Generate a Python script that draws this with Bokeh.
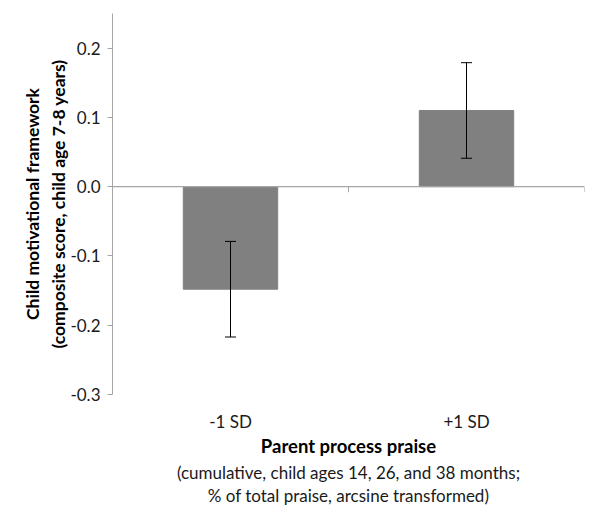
from bokeh.plotting import figure
from bokeh.models import (Range1d, FixedTicker, Span, Whisker, ColumnDataSource,
                          Title, NumeralTickFormatter, TeeHead)
from bokeh.embed import file_html
from bokeh.resources import INLINE

# ---- data ----
categories = ["-1 SD", "+1 SD"]
means = [-0.148, 0.110]
errors = [0.069, 0.069]
y_ticks = [-0.3, -0.2, -0.1, 0.0, 0.1, 0.2]
y_label = "Child motivational framework\n(composite score, child age 7-8 years)"
x_label = "Parent process praise"
x_sub1 = "(cumulative, child ages 14, 26, and 38 months;"
x_sub2 = "% of total praise, arcsine transformed)"

FONT = "Lato"
xs = [i + 0.5 for i in range(len(categories))]
bounds = list(range(len(categories) + 1))

src = ColumnDataSource(dict(
    x=xs, top=means,
    upper=[m + e for m, e in zip(means, errors)],
    lower=[m - e for m, e in zip(means, errors)],
))

W, H = 600, 515
p = figure(width=W, height=H, output_backend="svg", toolbar_location=None,
           x_range=Range1d(0, len(categories)), y_range=Range1d(-0.3, 0.25),
           min_border_left=112, min_border_right=W - 584, min_border_top=13,
           min_border_bottom=H - 394)
p.outline_line_color = None
p.grid.visible = False
p.background_fill_color = "white"

p.vbar(x="x", top="top", bottom=0, width=0.4, source=src,
       fill_color="#808080", line_color="#808080")

# zero line and category separators
p.add_layout(Span(location=0, dimension="width", line_color="#a6a6a6", line_width=1.3))
p.segment(x0=bounds, x1=bounds, y0=[0] * len(bounds), y1=[-0.008] * len(bounds),
          line_color="#a6a6a6", line_width=1)

w = Whisker(base="x", upper="upper", lower="lower", source=src, dimension="height",
            line_color="black", line_width=1, level="overlay",
            upper_head=TeeHead(size=11, line_color="black", line_width=1),
            lower_head=TeeHead(size=11, line_color="black", line_width=1))
p.add_layout(w)

# y axis
ya = p.yaxis[0]
ya.ticker = FixedTicker(ticks=y_ticks)
ya.formatter = NumeralTickFormatter(format="0.0")
ya.axis_line_color = "#a6a6a6"
ya.major_tick_line_color = "#a6a6a6"
ya.major_tick_out = 5
ya.major_tick_in = 0
ya.minor_tick_line_color = None
ya.major_label_text_font = FONT
ya.major_label_text_font_size = "17px"
ya.major_label_text_color = "#1a1a1a"
ya.major_label_standoff = 7
ya.axis_label = y_label
ya.axis_label_text_font = FONT
ya.axis_label_text_font_size = "17.5px"
ya.axis_label_text_font_style = "bold"
ya.axis_label_text_color = "black"
ya.axis_label_text_line_height = 1.25
ya.axis_label_standoff = -2

# x axis
xa = p.xaxis[0]
xa.ticker = FixedTicker(ticks=xs)
xa.major_label_overrides = {x: c for x, c in zip(xs, categories)}
xa.axis_line_color = None
xa.major_tick_line_color = None
xa.minor_tick_line_color = None
xa.major_label_standoff = 10
xa.major_label_text_font = FONT
xa.major_label_text_font_size = "17px"
xa.major_label_text_color = "#1a1a1a"
xa.axis_label = x_label
xa.axis_label_text_font = FONT
xa.axis_label_text_font_size = "18.5px"
xa.axis_label_text_font_style = "bold"
xa.axis_label_text_color = "black"
xa.axis_label_standoff = 0
xa.axis_label_text_line_height = 0.9

for t in (x_sub1, x_sub2):
    p.add_layout(Title(text=t, align="center", text_font=FONT, text_font_size="17px",
                       text_font_style="normal", text_color="#1a1a1a", standoff=0,
                       offset=0, text_line_height=0.85), "below")

open("out.html", "w").write(file_html(p, INLINE))
